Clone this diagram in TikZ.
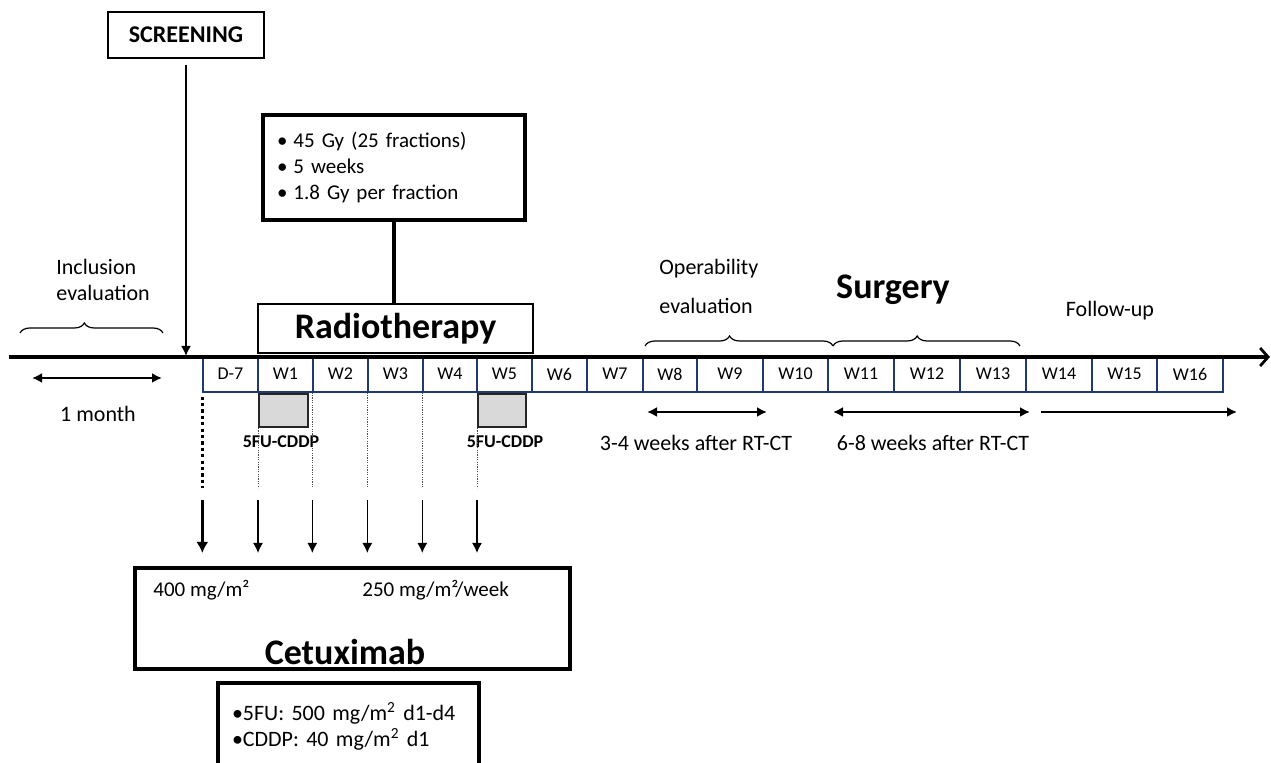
\documentclass[tikz,border=0pt]{standalone}
\usepackage{fontspec}
\setmainfont{Carlito}
\usetikzlibrary{arrows.meta,decorations.pathreplacing}
\definecolor{navy}{HTML}{1F3A6E}
\definecolor{boxgray}{HTML}{D9D9D9}
\begin{document}
\begin{tikzpicture}[x=0.5pt,y=-0.5pt,
  txt/.style={inner sep=0pt, font=\fontsize{11}{13}\selectfont},
  smalltxt/.style={inner sep=0pt, font=\fontsize{10.5}{13}\selectfont},
  bigbold/.style={inner sep=0pt, font=\bfseries\fontsize{18}{20}\selectfont},
  cell/.style={draw=navy, line width=0.7pt, minimum height=18pt, inner sep=0pt, font=\fontsize{9}{11}\selectfont},
  thinbox/.style={draw, line width=0.7pt, inner sep=0pt},
  rtbox/.style={draw, line width=1pt, inner sep=0pt},
  thickbox/.style={draw, line width=2pt},
  graybox/.style={draw=black!85, fill=boxgray, line width=1pt, inner sep=0pt},
  cddp/.style={inner sep=0pt, font=\bfseries\fontsize{9}{11}\selectfont},
  timeline/.style={line width=1.6pt, -{Straight Barb[length=4pt,width=9pt,line width=1.4pt]}},
  downarrow/.style={line width=0.7pt, -{Latex[length=5pt,width=5pt]}},
  bolddown/.style={line width=1.5pt, -{Latex[length=5.5pt,width=6pt]}},
  dblarrow/.style={line width=1pt, {Latex[length=5pt,width=5pt]}-{Latex[length=5pt,width=5pt]}},
  onearrow/.style={line width=1pt, -{Latex[length=5pt,width=5pt]}},
  thickdot/.style={line width=1.6pt, dash pattern=on 1.6pt off 1.6pt},
  thindot/.style={line width=0.5pt, black!70, dash pattern=on 0.6pt off 0.6pt},
  bracestyle/.style={line width=0.6pt, decorate, decoration={brace, amplitude=5pt, aspect=0.45}}
]
\useasboundingbox (0,0) rectangle (1271,763);
\clip (0,0) rectangle (1271,763);

% week cells
\foreach \l/\r/\t/\n in {203/258/D-7/c0, 258/313/W1/c1, 313/368/W2/c2, 368/423/W3/c3, 423/477/W4/c4, 477/532/W5/c5, 532/587/W6/c6, 587/643/W7/c7, 643/697/W8/c8, 697/763/W9/c9, 763/828/W10/c10, 828/894/W11/c11, 894/960/W12/c12, 960/1026/W13/c13, 1026/1092/W14/c14, 1092/1157/W15/c15, 1157/1223/W16/c16}
  \node[cell, minimum width={(\r-\l)*0.5pt}] (\n) at ({(\l+\r)/2},374) {\t};

% timeline
\coordinate (tl0) at (9,357);
\coordinate (tl1) at (1270,357);
\draw[timeline] (tl0) -- (tl1);

% screening
\node[thinbox, minimum width=78pt, minimum height=23pt, font=\bfseries\fontsize{12}{14}\selectfont] (scr) at (186,35) {SCREENING};
\coordinate (scrend) at (186,356);
\draw[downarrow, line width=0.8pt, shorten <=3pt] (scr.south) -- (scrend);

% radiotherapy
\node[thickbox, text width=117pt, inner xsep=7pt, minimum height=52.5pt, align=left, font=\fontsize{10.5}{13}\selectfont] (info) at (394,167.5)
  {\textbullet\hspace{3pt}45 Gy (25 fractions)\\ \textbullet\hspace{3pt}5 weeks\\ \textbullet\hspace{3pt}1.8 Gy per fraction};
\node[rtbox, minimum width=137.5pt, minimum height=24.5pt, font=\bfseries\fontsize{18}{20}\selectfont] (rt) at (395.5,328.5) {Radiotherapy};
\draw[line width=1.8pt] (info.south) -- (info.south |- rt.north);

% inclusion
\node[txt, anchor=west, align=left] (incl) at (56,280) {Inclusion\\evaluation};
\coordinate (ib0) at (20,333);
\coordinate (ib1) at (163,333);
\draw[bracestyle] (ib0) -- (ib1);
\coordinate (m0) at (32,378);
\coordinate (m1) at (162,378);
\draw[dblarrow] (m0) -- (m1);
\node[txt] (month) at (98,414) {1 month};

% operability / surgery / follow-up
\node[txt, anchor=west, align=left] (oper) at (659,286) {Operability\\[6.5pt]evaluation};
\node[bigbold] (surg) at (893,290) {Surgery};
\node[txt] (fu) at (1110,311) {Follow-up};
\coordinate (ob0) at (645,346);
\coordinate (ob1) at (833,346);
\coordinate (sb1) at (1020,346);
\draw[bracestyle] (ob0) -- (ob1);
\draw[bracestyle] (ob1) -- (sb1);
\coordinate (a0) at (647,412);
\coordinate (a1) at (767,412);
\coordinate (b0) at (833,412);
\coordinate (b1) at (1030,412);
\coordinate (f0) at (1041,412);
\coordinate (f1) at (1237,412);
\draw[dblarrow] (a0) -- (a1);
\draw[dblarrow] (b0) -- (b1);
\draw[onearrow] (f0) -- (f1);
\node[txt] (t34) at (696,443) {3-4 weeks after RT-CT};
\node[txt] (t68) at (933,443) {6-8 weeks after RT-CT};

% chemo boxes
\node[graybox, minimum width=24.5pt, minimum height=16.5pt] (g1) at (283.5,410.5) {};
\node[graybox, minimum width=24pt, minimum height=16.5pt] (g2) at (502,410.5) {};
\node[cddp] (l1) at (281,442) {5FU-CDDP};
\node[cddp] (l2) at (505,442) {5FU-CDDP};

% dotted lines
\coordinate (dotend) at (0,488);
\draw[thickdot] ([yshift=-2pt]c0.south west) -- (c0.south west |- dotend);
\draw[thindot] (g1.south west) -- (g1.south west |- dotend);
\draw[thindot] (c2.south west) -- (c2.south west |- dotend);
\draw[thindot] (c3.south west) -- (c3.south west |- dotend);
\draw[thindot] (c4.south west) -- (c4.south west |- dotend);
\draw[thindot] (g2.south west) -- (g2.south west |- dotend);

% cetuximab arrows
\coordinate (arS) at (0,500);
\coordinate (arE) at (0,553);
\draw[bolddown] (c0.south west |- arS) -- (c0.south west |- arE);
\foreach \c in {g1,c2,c3,c4,g2}
  \draw[downarrow] (\c.south west |- arS) -- (\c.south west |- arE);

% cetuximab box
\node[thickbox, minimum width=217.5pt, minimum height=50.5pt, inner sep=0pt] (cet) at (352.5,618.5) {};
\node[smalltxt, anchor=west] (dose1) at (153,590) {400 mg/m²};
\node[smalltxt, anchor=west] (dose2) at (362,590) {250 mg/m²/week};
\node[bigbold] (cetl) at (345,652) {Cetuximab};

% chemo regimen box
\node[thickbox, text width=116.5pt, inner xsep=7pt, minimum height=43pt, align=left, font=\fontsize{11}{13}\selectfont] (chemo) at (348.5,726)
  {\textbullet 5FU: 500 mg/m\textsuperscript{2} d1-d4\\ \textbullet CDDP: 40 mg/m\textsuperscript{2} d1};
\end{tikzpicture}
\end{document}
